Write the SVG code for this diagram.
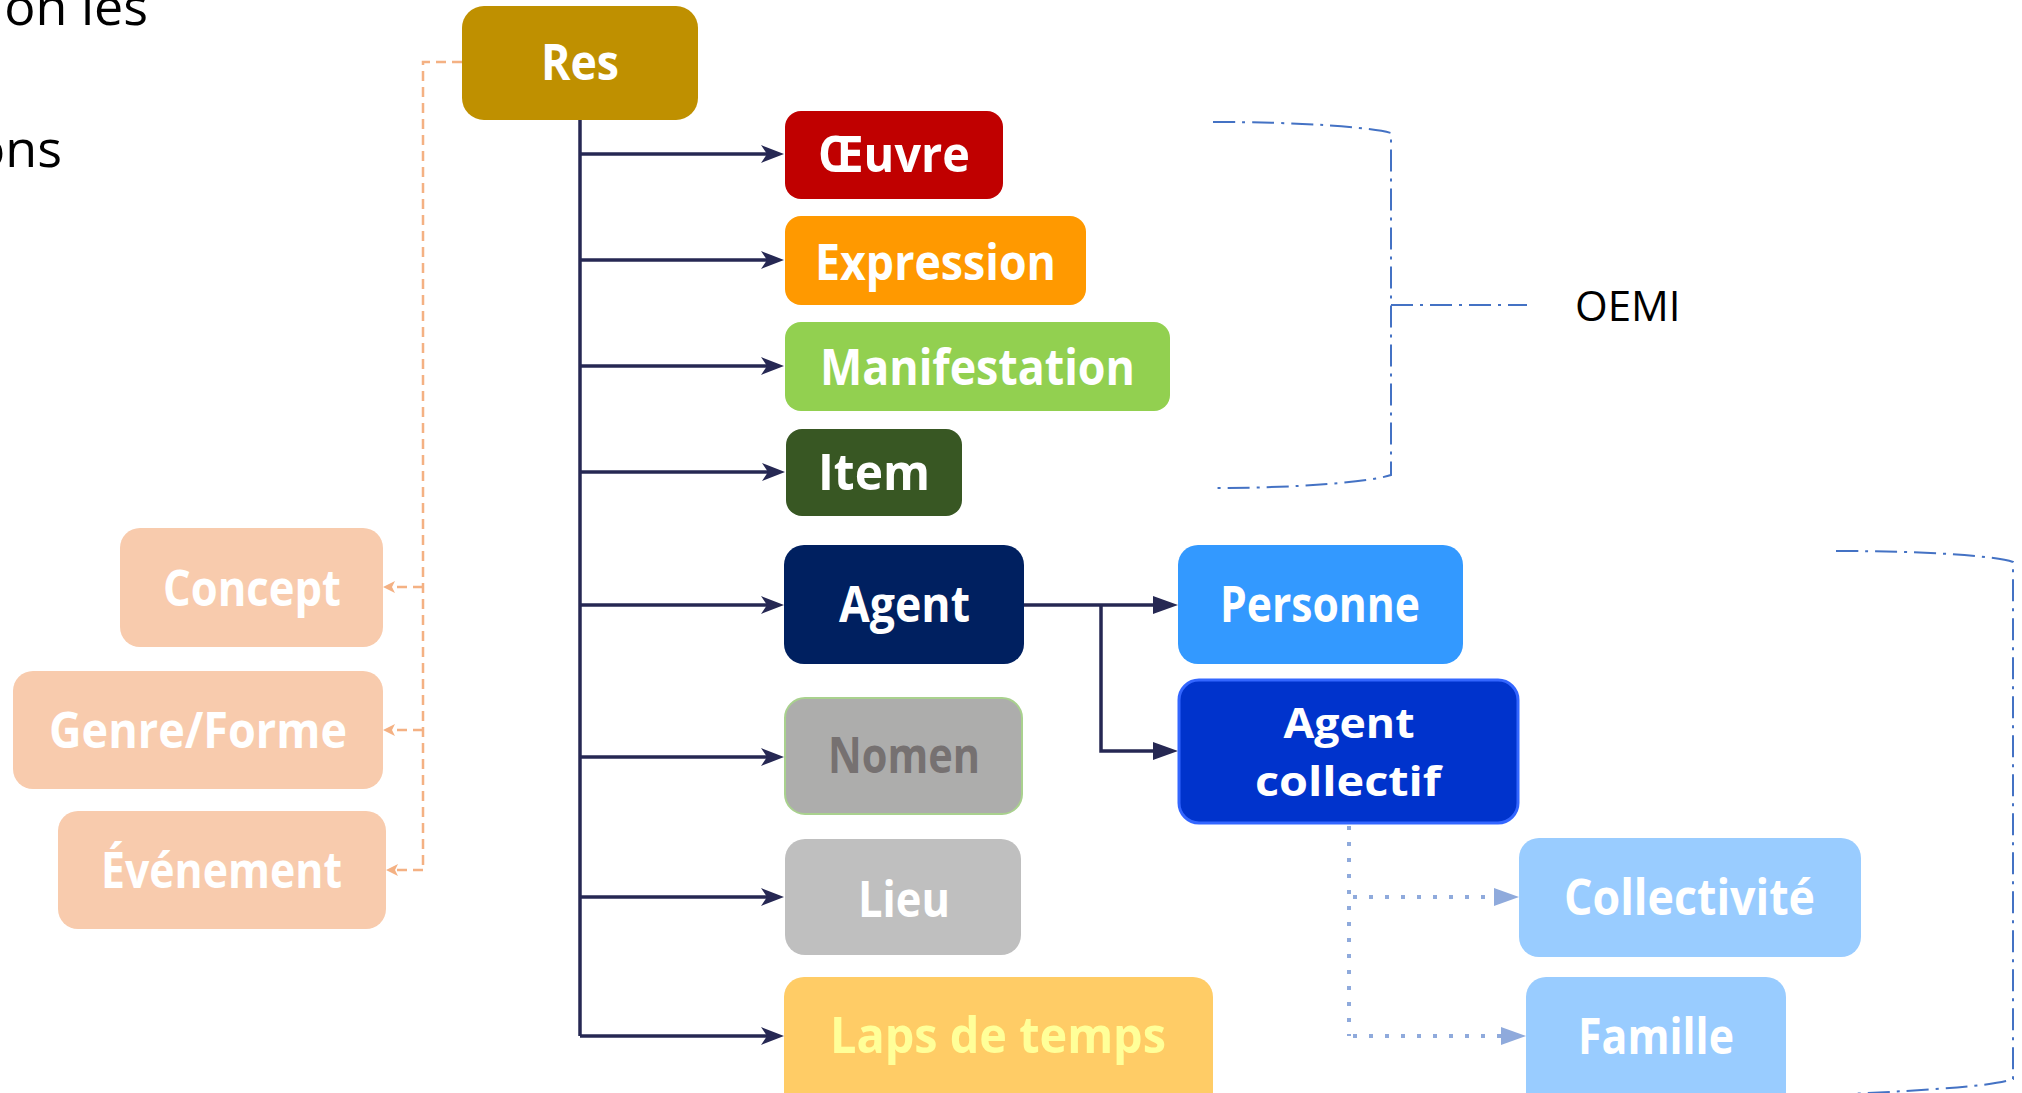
<svg xmlns="http://www.w3.org/2000/svg" width="2022" height="1093" viewBox="0 0 2022 1093">
  <style>
    .lbl { font-family: "Open Sans", "DejaVu Sans", sans-serif; font-weight: 700; font-size: 50px; fill: #FFFFFF; text-anchor: middle; }
    .lbl2 { font-family: "Open Sans", "DejaVu Sans", sans-serif; font-weight: 700; font-size: 42px; fill: #FFFFFF; text-anchor: middle; }
    .plain { font-family: "Open Sans", "Liberation Sans", sans-serif; font-weight: 400; fill: #000000; }
    .trunk { fill: none; stroke: #262853; stroke-width: 3.5; }
    .branch { fill: none; stroke: #262853; stroke-width: 3.5; marker-end: url(#stealth); }
    .sub { fill: none; stroke: #262853; stroke-width: 3.5; marker-end: url(#tri); }
    .orange { fill: none; stroke: #F4B183; stroke-width: 2.5; stroke-dasharray: 10 6; }
    .orangeArr { fill: none; stroke: #F4B183; stroke-width: 2.5; stroke-dasharray: 10 6; marker-end: url(#oarr); }
    .dots { fill: none; stroke: #8FAADC; stroke-width: 4; stroke-dasharray: 4 12; }
    .dotsArr { fill: none; stroke: #8FAADC; stroke-width: 4; stroke-dasharray: 4 12; marker-end: url(#btri); }
    .brace { fill: none; stroke: #4472C4; stroke-width: 2; stroke-dasharray: 22 7 3 7; }
  </style>
  <defs>
    <marker id="stealth" markerUnits="userSpaceOnUse" viewBox="-8 -10 26 20" refX="0" refY="0" markerWidth="26" markerHeight="20" orient="auto">
      <path d="M16,0 L-7,-9 L-1,0 L-7,9 Z" fill="#262853"/>
    </marker>
    <marker id="tri" markerUnits="userSpaceOnUse" viewBox="-8 -10 28 20" refX="0" refY="0" markerWidth="28" markerHeight="20" orient="auto">
      <path d="M18,0 L-7,-9 L-7,9 Z" fill="#262853"/>
    </marker>
    <marker id="oarr" markerUnits="userSpaceOnUse" viewBox="-4 -7 14 14" refX="0" refY="0" markerWidth="14" markerHeight="14" orient="auto">
      <path d="M9,0 L-3,-6 L0,0 L-3,6 Z" fill="#F4B183"/>
    </marker>
    <marker id="btri" markerUnits="userSpaceOnUse" viewBox="-8 -10 28 20" refX="0" refY="0" markerWidth="28" markerHeight="20" orient="auto">
      <path d="M18,0 L-7,-9 L-7,9 Z" fill="#8FAADC"/>
    </marker>
  </defs>

  <!-- partial slide text (cut off by the edge in the reference too) -->
  <text class="plain" x="148" y="25" font-size="52" text-anchor="end">ion les</text>
  <text class="plain" x="62" y="167" font-size="52" text-anchor="end">ons</text>

  <g id="connectors">
    <path class="trunk" d="M580,120 V1036"/>
    <path class="branch" d="M580,154 H768"/>
    <path class="branch" d="M580,260 H768"/>
    <path class="branch" d="M580,366 H768"/>
    <path class="branch" d="M580,472 H769"/>
    <path class="branch" d="M580,605 H768"/>
    <path class="branch" d="M580,757 H768"/>
    <path class="branch" d="M580,897 H768"/>
    <path class="branch" d="M580,1036 H768"/>
    <path class="sub" d="M1024,605 H1160"/>
    <path class="sub" d="M1101,605 V751 H1160"/>
    <path class="orange" d="M462,62 H423 V871"/>
    <path class="orangeArr" d="M423,587 H392"/>
    <path class="orangeArr" d="M423,730 H392"/>
    <path class="orangeArr" d="M423,870 H395"/>
    <path class="dots" d="M1349,826 V1036"/>
    <path class="dotsArr" d="M1353,897 H1501"/>
    <path class="dotsArr" d="M1353,1036 H1508"/>
    <path class="brace" d="M1213,122 C1300,122 1370,127 1391,133 V475 C1370,482 1300,488 1213,488"/>
    <path class="brace" d="M1391,305 H1527"/>
    <path class="brace" d="M1836,551 C1930,551 1995,556 2013,562 V1079 C1995,1086 1930,1090 1850,1094"/>
  </g>

  <g id="res"><rect x="462" y="6" width="236" height="114" rx="22" fill="#BF9000"/><text class="lbl" x="580" y="80" textLength="78" lengthAdjust="spacingAndGlyphs">Res</text></g>
  <g id="oeuvre"><rect x="785" y="111" width="218" height="88" rx="16" fill="#C00000"/><text class="lbl" x="894" y="172" textLength="152" lengthAdjust="spacingAndGlyphs">Œuvre</text></g>
  <g id="expression"><rect x="785" y="216" width="301" height="89" rx="16" fill="#FF9900"/><text class="lbl" x="935.5" y="280" textLength="241" lengthAdjust="spacingAndGlyphs">Expression</text></g>
  <g id="manifestation"><rect x="785" y="322" width="385" height="89" rx="16" fill="#92D050"/><text class="lbl" x="977.5" y="385" textLength="315" lengthAdjust="spacingAndGlyphs">Manifestation</text></g>
  <g id="item"><rect x="786" y="429" width="176" height="87" rx="16" fill="#385723"/><text class="lbl" x="874" y="490" textLength="112" lengthAdjust="spacingAndGlyphs">Item</text></g>
  <g id="agent"><rect x="784" y="545" width="240" height="119" rx="20" fill="#002060"/><text class="lbl" x="904.5" y="622" textLength="131" lengthAdjust="spacingAndGlyphs">Agent</text></g>
  <g id="personne"><rect x="1178" y="545" width="285" height="119" rx="20" fill="#3399FF"/><text class="lbl" x="1320" y="622" textLength="200" lengthAdjust="spacingAndGlyphs">Personne</text></g>
  <g id="agent-collectif"><rect x="1179" y="680" width="339" height="143" rx="20" fill="#0033CC" stroke="#3366FF" stroke-width="3"/><text class="lbl2" x="1349" y="738" textLength="131" lengthAdjust="spacingAndGlyphs">Agent</text><text class="lbl2" x="1348" y="796" textLength="186" lengthAdjust="spacingAndGlyphs">collectif</text></g>
  <g id="nomen"><rect x="785" y="698" width="237" height="116" rx="20" fill="#ADADAC" stroke="#A9D18E" stroke-width="2"/><text class="lbl" x="904" y="773" textLength="152" lengthAdjust="spacingAndGlyphs" style="fill:#767171">Nomen</text></g>
  <g id="lieu"><rect x="785" y="839" width="236" height="116" rx="20" fill="#BFBFBF"/><text class="lbl" x="904" y="917" textLength="92" lengthAdjust="spacingAndGlyphs">Lieu</text></g>
  <g id="laps-de-temps"><rect x="784" y="977" width="429" height="140" rx="20" fill="#FFCC66"/><text class="lbl" x="998" y="1053" textLength="336" lengthAdjust="spacingAndGlyphs" style="fill:#FFFF99">Laps de temps</text></g>
  <g id="collectivite"><rect x="1519" y="838" width="342" height="119" rx="20" fill="#99CCFF"/><text class="lbl" x="1689.5" y="915" textLength="251" lengthAdjust="spacingAndGlyphs">Collectivité</text></g>
  <g id="famille"><rect x="1526" y="977" width="260" height="140" rx="20" fill="#99CCFF"/><text class="lbl" x="1656" y="1054" textLength="156" lengthAdjust="spacingAndGlyphs">Famille</text></g>
  <g id="concept"><rect x="120" y="528" width="263" height="119" rx="20" fill="#F8CBAD"/><text class="lbl" x="252" y="606" textLength="178" lengthAdjust="spacingAndGlyphs">Concept</text></g>
  <g id="genre-forme"><rect x="13" y="671" width="370" height="118" rx="20" fill="#F8CBAD"/><text class="lbl" x="198" y="748" textLength="298" lengthAdjust="spacingAndGlyphs">Genre/Forme</text></g>
  <g id="evenement"><rect x="58" y="811" width="328" height="118" rx="20" fill="#F8CBAD"/><text class="lbl" x="221.5" y="888" textLength="241" lengthAdjust="spacingAndGlyphs">Événement</text></g>

  <g id="oemi-label"><text class="plain" x="1575" y="321" font-size="42">OEMI</text></g>
</svg>
